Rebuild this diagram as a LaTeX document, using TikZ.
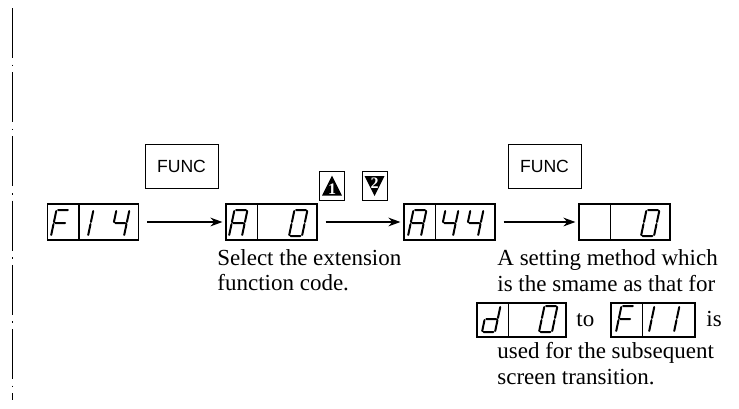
\documentclass[tikz,border=0pt]{standalone}
\usepackage{fontspec}
\setmainfont{Liberation Serif}
\newfontfamily\keyfont{Liberation Sans}
\usetikzlibrary{arrows.meta,positioning}
\tikzset{
  >={Stealth[length=6pt,width=4.4pt]},
  disp/.style={draw,line width=.6pt,minimum width=45.5pt,minimum height=18pt,inner sep=0pt},
  funckey/.style={draw,line width=.5pt,minimum width=36.5pt,minimum height=22pt,font=\keyfont\fontsize{8.8}{10}\selectfont},
  arrowkey/.style={draw,line width=.5pt,minimum width=12.5pt,minimum height=14.5pt,inner sep=0pt},
  seg/.style={line width=1pt,line cap=round},
  trans/.style={->,line width=.6pt,shorten <=4pt,shorten >=1.5pt},
  txt/.style={anchor=base west,inner sep=0pt,font=\fontsize{11.5}{13}\selectfont},
  keynum/.style={text=white,inner sep=0pt,font=\fontsize{8}{9}\selectfont\bfseries},
  margline/.style={line width=.5pt,dash pattern=on 25pt off 3.3pt on .8pt off 3pt}
}
% seven-segment characters (u across, v up: 0..2)
\newcommand{\chF}{(.12,2)--(.88,2) (0,1.08)--(0,1.92) (0,.08)--(0,.92) (.12,1)--(.88,1)}
\newcommand{\chOne}{(1,1.08)--(1,1.92) (1,.08)--(1,.92)}
\newcommand{\chFour}{(0,1.08)--(0,1.92) (.12,1)--(.88,1) (1,1.08)--(1,1.92) (1,.08)--(1,.92)}
\newcommand{\chA}{(.12,2)--(.88,2) (0,1.08)--(0,1.92) (0,.08)--(0,.92) (.12,1)--(.88,1) (1,1.08)--(1,1.92) (1,.08)--(1,.92)}
\newcommand{\chZero}{(.12,2)--(.88,2) (0,1.08)--(0,1.92) (0,.08)--(0,.92) (.12,0)--(.88,0) (1,1.08)--(1,1.92) (1,.08)--(1,.92)}
\newcommand{\chD}{(0,.08)--(0,.92) (.12,1)--(.88,1) (.12,0)--(.88,0) (1,1.08)--(1,1.92) (1,.08)--(1,.92)}
\newcommand{\ssd}[3]{\begin{scope}[shift={(#1,#2)},x=6.5pt,y=6.5pt,xslant=.21]\draw[seg] #3;\end{scope}}

\begin{document}
\begin{tikzpicture}[x=.5pt,y=-.5pt]
  \useasboundingbox (0,0) rectangle (739,408);
  % margin line
  \coordinate (mtop) at (12,8); \coordinate (mbot) at (12,400);
  \draw[margline] (mtop) -- (mbot);

  % keys
  \node[funckey] (func1) at (181.5,166) {FUNC};
  \node[funckey] (func2) at (544.5,166) {FUNC};
  \node[arrowkey] (up) at (332,186) {};
  \node[arrowkey] (down) at (374.5,186) {};
  \fill ([shift={(-5pt,-4.8pt)}]up.center) -- ([shift={(5pt,-4.8pt)}]up.center) -- ([shift={(0,5.2pt)}]up.center) -- cycle;
  \fill ([shift={(-5pt,5pt)}]down.center) -- ([shift={(5pt,5pt)}]down.center) -- ([shift={(0,-5pt)}]down.center) -- cycle;
  \node[keynum] (upnum) at ([yshift=-1.5pt]up.center) {1};
  \node[keynum] (downnum) at ([yshift=1.5pt]down.center) {2};

  % displays
  \node[disp] (f14) at (93,222) {};
  \node[disp] (a0) at (271.5,222) {};
  \node[disp] (a44) at (449.5,222) {};
  \node[disp] (blank0) at (624.5,222) {};
  \node[disp,minimum width=44.5pt,minimum height=17pt] (d0) at (521.5,320) {};
  \node[disp,minimum width=42pt,minimum height=17pt] (f11) at (653,320) {};
  \foreach \d in {f14,a0,a44,blank0,d0,f11}
    \draw[line width=.6pt] ([xshift=16pt]\d.north west) -- ([xshift=16pt]\d.south west);

  \ssd{51}{236}{\chF} \ssd{75}{236}{\chOne} \ssd{111}{236}{\chFour}
  \ssd{229}{236}{\chA} \ssd{289}{236}{\chZero}
  \ssd{408}{236}{\chA} \ssd{440}{236}{\chFour} \ssd{465}{236}{\chFour}
  \ssd{641}{236}{\chZero}
  \ssd{482}{332}{\chD} \ssd{539}{332}{\chZero}
  \ssd{616}{332}{\chF} \ssd{636}{332}{\chOne} \ssd{661}{332}{\chOne}

  \draw[trans] (f14) -- (a0);
  \draw[trans] (a0) -- (a44);
  \draw[trans] (a44) -- (blank0);

  % captions
  \node[txt] (sel1) at (217,265) {Select the extension};
  \node[txt] (sel2) at (217,290) {function code.};
  \node[txt] (set1) at (497,265) {A setting method which};
  \node[txt] (set2) at (497,291) {is the smame as that for};
  \node[txt] (to) at (576,326) {to};
  \node[txt] (is) at (706,326) {is};
  \node[txt] (use1) at (497,358) {used for the subsequent};
  \node[txt] (use2) at (497,384) {screen transition.};
\end{tikzpicture}
\end{document}
